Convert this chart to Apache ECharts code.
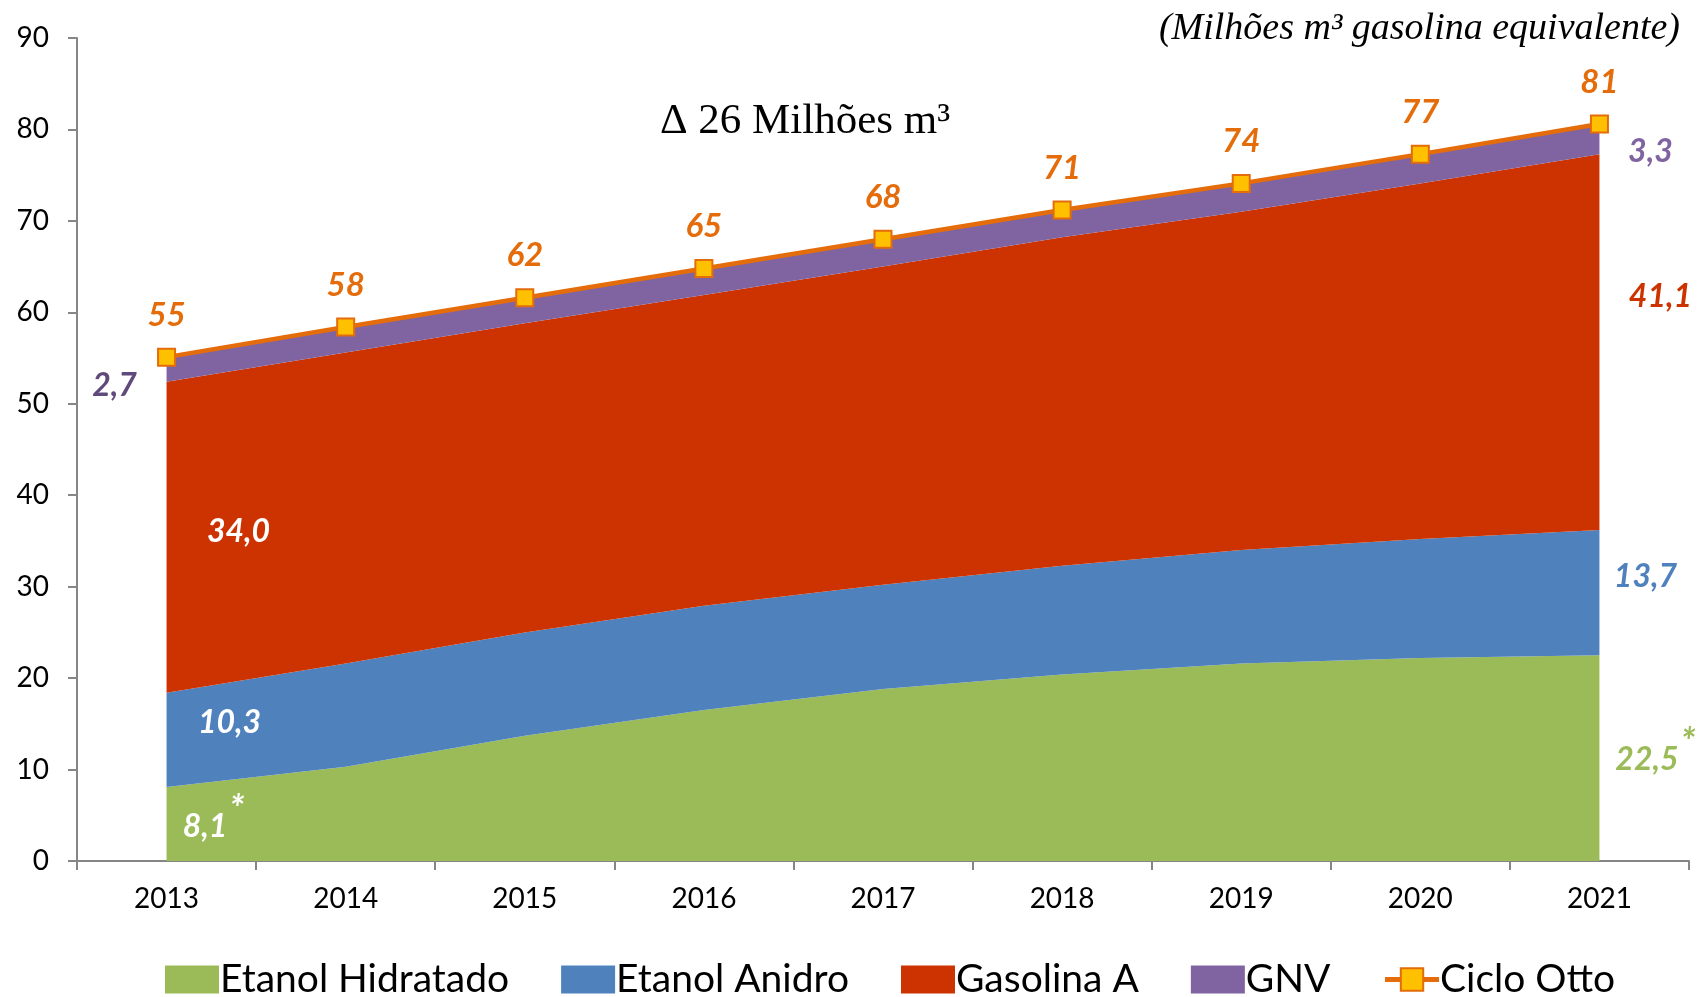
<!DOCTYPE html>
<html>
<head>
<meta charset="utf-8">
<style>html,body{margin:0;padding:0;width:1705px;height:997px;background:#fff;overflow:hidden;}#chart{width:1705px;height:997px;}</style>
<script src="https://cdn.jsdelivr.net/npm/echarts@6/dist/echarts.min.js"></script>
</head>
<body>
<div id="chart"></div>
<script>
// data (milhões m3 gasolina equivalente)
var years = ["2013", "2014", "2015", "2016", "2017", "2018", "2019", "2020", "2021"];
var etanolHidratado = [8.1, 10.3, 13.7, 16.5, 18.8, 20.4, 21.6, 22.2, 22.5];
var etanolAnidro = [10.3, 11.3, 11.3, 11.4, 11.4, 11.9, 12.4, 13.0, 13.7];
var gasolinaA = [34.0, 34.0, 33.8, 34.0, 34.8, 35.9, 37.0, 38.9, 41.1];
var gnv = [2.7, 2.8, 2.8, 2.9, 3.0, 3.0, 3.1, 3.2, 3.3];
var cicloOtto = [55.1, 58.4, 61.6, 64.8, 68.0, 71.2, 74.1, 77.3, 80.6];
var yTicks = [0, 10, 20, 30, 40, 50, 60, 70, 80, 90];

var SANS = "Lato";
var SERIF = "Liberation Serif";

function fmt(v) { return v.toFixed(1).replace(".", ","); }

// only first and last points carry a label, each with its own offset
function edgeData(values, color, first, last, star) {
  return values.map(function (v, i) {
    var lab = null;
    if (i === 0) lab = first;
    if (i === values.length - 1) lab = last;
    if (!lab) return v;
    return {
      value: v,
      label: {
        show: true,
        position: "inside",
        offset: lab,
        color: color,
        formatter: star ? "{v|" + fmt(v) + "}{s|*}" : fmt(v)
      }
    };
  });
}

function areaSeries(name, values, color, first, last, firstColor, star) {
  var data = edgeData(values, color, first, last, star);
  if (firstColor) data[0].label.color = firstColor;
  return {
    name: name,
    type: "line",
    stack: "total",
    data: data,
    symbol: "circle",
    symbolSize: 0,
    showSymbol: true,
    lineStyle: { width: 0 },
    itemStyle: { color: color },
    areaStyle: { color: color, opacity: 1 },
    label: {
      show: false,
      fontFamily: SANS,
      fontSize: 32,
      fontWeight: "bold",
      fontStyle: "italic",
      rich: {
        v: { fontFamily: SANS, fontSize: 32, fontWeight: "bold", fontStyle: "italic" },
        s: { fontFamily: SANS, fontSize: 38, fontWeight: "bold", fontStyle: "italic", verticalAlign: "top", padding: [0, 0, 34, 2] }
      }
    },
    emphasis: { disabled: true }
  };
}

var chart = echarts.init(document.getElementById("chart"), null, { renderer: "canvas" });

var option = {
  animation: false,
  backgroundColor: "#fff",
  grid: { left: 77, right: 16, top: 38, bottom: 136 },
  legend: {
    bottom: -7,
    left: 160,
    itemWidth: 54,
    itemHeight: 28,
    itemGap: 52,
    textStyle: { fontFamily: SANS, fontSize: 39, color: "#000", padding: [0, 0, 0, -4] },
    data: [
      { name: "Etanol Hidratado", icon: "rect" },
      { name: "Etanol Anidro", icon: "rect" },
      { name: "Gasolina A", icon: "rect" },
      { name: "GNV", icon: "rect" },
      { name: "Ciclo Otto", lineStyle: { width: 5 } }
    ]
  },
  xAxis: {
    type: "category",
    data: years,
    boundaryGap: true,
    axisLine: { lineStyle: { color: "#868686", width: 2 } },
    axisTick: { show: true, length: 9, lineStyle: { color: "#868686", width: 2 } },
    axisLabel: { fontFamily: SANS, fontSize: 28, color: "#000", margin: 24 }
  },
  yAxis: {
    type: "value",
    min: yTicks[0],
    max: yTicks[yTicks.length - 1],
    interval: 10,
    splitLine: { show: false },
    axisLine: { show: true, lineStyle: { color: "#868686", width: 2 } },
    axisTick: { show: true, length: 9, lineStyle: { color: "#868686", width: 2 } },
    axisLabel: { fontFamily: SANS, fontSize: 28, color: "#000", margin: 28 }
  },
  series: [
    areaSeries("Etanol Hidratado", etanolHidratado, "#9BBB59", [47, 40], [56, 104], "#fff", true),
    areaSeries("Etanol Anidro", etanolAnidro, "#4F81BD", [63, 30], [46, 47], "#fff"),
    areaSeries("Gasolina A", gasolinaA, "#CC3300", [72, 150], [61, 143], "#fff"),
    areaSeries("GNV", gnv, "#8064A2", [-52, 29], [51, 28], "#604A7B"),
    {
      name: "Ciclo Otto",
      type: "line",
      data: cicloOtto,
      z: 5,
      symbol: "rect",
      symbolSize: 17,
      lineStyle: { color: "#E46C0A", width: 4.5 },
      itemStyle: { color: "#FFC000", borderColor: "#E46C0A", borderWidth: 2 },
      label: {
        show: true,
        position: "top",
        distance: 16,
        color: "#E46C0A",
        fontFamily: SANS,
        fontSize: 33,
        fontWeight: "bold",
        fontStyle: "italic",
        formatter: function (p) { return Math.round(p.value); }
      },
      emphasis: { disabled: true }
    }
  ],
  graphic: [
    {
      type: "text", right: 25, top: 10,
      style: { text: "(Milhões m³ gasolina equivalente)", fontFamily: SERIF, fontStyle: "italic", fontSize: 38, fill: "#000" }
    },
    {
      type: "text", x: 805, y: 122,
      style: { text: "Δ 26 Milhões m³", fontFamily: SERIF, fontSize: 43, fill: "#000", align: "center", verticalAlign: "middle" }
    },
    {
      type: "text", x: 944, y: 439,
      style: { text: "Δ 7,1 Milhões m³", fontFamily: SERIF, fontSize: 43, fill: "#fff", align: "center", verticalAlign: "middle" }
    },
    {
      type: "text", x: 1005, y: 621,
      style: { text: "Δ 3,4 Milhões m³", fontFamily: SERIF, fontSize: 43, fill: "#fff", align: "center", verticalAlign: "middle" }
    },
    {
      type: "text", x: 1136, y: 756,
      style: { text: "Δ 14,4 Milhões m³", fontFamily: SERIF, fontSize: 43, fill: "#fff", align: "center", verticalAlign: "middle" }
    }
  ]
};

chart.setOption(option);
</script>
</body>
</html>
